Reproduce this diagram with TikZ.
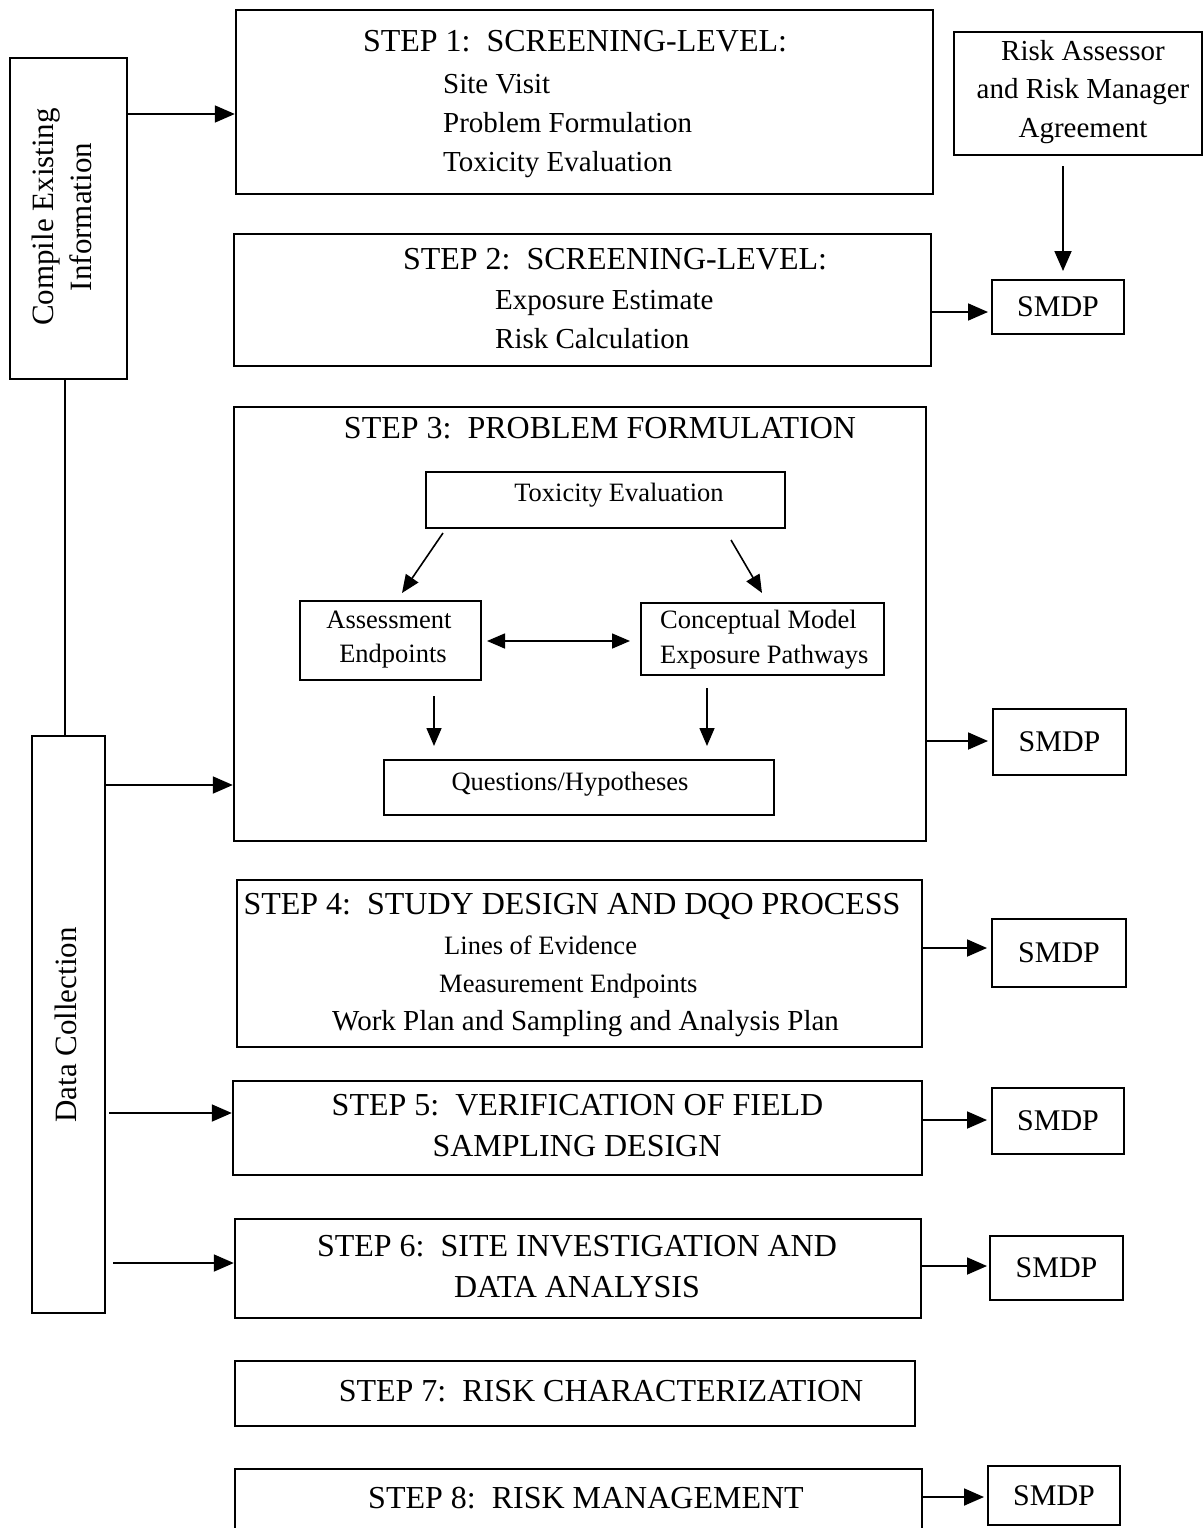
\documentclass[tikz,border=0pt]{standalone}
\usepackage{fontspec}
\setmainfont{Liberation Serif}
\usetikzlibrary{arrows.meta}
\begin{document}
\begin{tikzpicture}[x=1pt,y=-1pt,
  box/.style={draw, line width=2.4pt, inner sep=0pt},
  ibox/.style={draw, line width=1.8pt, inner sep=0pt},
  ttl/.style={font=\fontsize{32}{38}\selectfont, inner sep=0pt, anchor=base},
  txt/.style={font=\fontsize{29}{38}\selectfont, inner sep=0pt, anchor=base west},
  txtc/.style={font=\fontsize{29}{38}\selectfont, inner sep=0pt, anchor=base},
  sml/.style={font=\fontsize{26.5}{32}\selectfont, inner sep=0pt, anchor=base west},
  smlc/.style={font=\fontsize{26.5}{32}\selectfont, inner sep=0pt, anchor=base},
  smdp/.style={draw, line width=2pt, inner sep=0pt, font=\fontsize{30}{36}\selectfont},
  arr/.style={-{Triangle[length=20pt,width=17pt]}, line width=1.8pt},
  iarr/.style={-{Triangle[length=18pt,width=15pt]}, line width=1.6pt},
  darr/.style={{Triangle[length=18pt,width=15pt]}-{Triangle[length=18pt,width=15pt]}, line width=1.6pt}
]
\fill[white] (0,0) rectangle (1204,1528);
\clip (0,0) rectangle (1204,1528);

% left column
\node[box, minimum width=117pt, minimum height=321pt] (cei) at (68.5,218.5) {};
\node[rotate=90, align=center, font=\fontsize{31}{38}\selectfont, inner sep=0pt] (ceit) at (62,217) {Compile Existing\\Information};
\node[box, minimum width=73pt, minimum height=577pt] (dc) at (68.5,1024.5) {};
\node[rotate=90, font=\fontsize{31}{38}\selectfont, inner sep=0pt] (dct) at (66,1025) {Data Collection};
\draw[line width=1.8pt] (cei.south -| 65,0) -- (dc.north -| 65,0);

% step 1
\node[box, minimum width=697pt, minimum height=184pt] (s1) at (584.5,102) {};
\node[ttl] (s1t) at (575,52) {STEP 1:\ \ SCREENING-LEVEL:};
\node[txt] (s1a) at (443,93) {Site Visit};
\node[txt] (s1b) at (443,132) {Problem Formulation};
\node[txt] (s1c) at (443,171) {Toxicity Evaluation};
\draw[arr] (cei.east |- 0,114) -- (s1.west |- 0,114);

% risk assessor
\node[box, minimum width=248pt, minimum height=123pt] (ra) at (1078,93.5) {};
\node[txtc] (ra1) at (1083,60) {Risk Assessor};
\node[txtc] (ra2) at (1083,99) {and Risk Manager};
\node[txtc] (ra3) at (1083,137) {Agreement};

% step 2
\node[box, minimum width=697pt, minimum height=132pt] (s2) at (582.5,300) {};
\node[ttl] (s2t) at (615,269) {STEP 2:\ \ SCREENING-LEVEL:};
\node[txt] (s2a) at (495,309) {Exposure Estimate};
\node[txt] (s2b) at (495,348) {Risk Calculation};
\node[smdp, minimum width=132pt, minimum height=54pt] (m2) at (1058,307) {SMDP};
\draw[arr, shorten >=3pt] (s2.east |- 0,312) -- (m2.west |- 0,312);
\draw[arr, shorten <=10pt, shorten >=8pt] (ra.south -| 1063,0) -- (m2.north -| 1063,0);

% step 3
\node[box, minimum width=692pt, minimum height=434pt] (s3) at (580,624) {};
\node[ttl] (s3t) at (600,438) {STEP 3:\ \ PROBLEM FORMULATION};
\node[ibox, minimum width=359pt, minimum height=56pt] (te) at (605.5,500) {};
\node[smlc] (tet) at (619,501) {Toxicity Evaluation};
\node[ibox, minimum width=181pt, minimum height=79pt] (ae) at (390.5,640.5) {};
\node[smlc] (ae1) at (389,628) {Assessment};
\node[smlc] (ae2) at (393,662) {Endpoints};
\node[ibox, minimum width=243pt, minimum height=72pt] (cm) at (762.5,639) {};
\node[sml] (cm1) at (660,628) {Conceptual Model};
\node[sml] (cm2) at (660,663) {Exposure Pathways};
\node[ibox, minimum width=390pt, minimum height=55pt] (qh) at (579,787.5) {};
\node[smlc] (qht) at (570,790) {Questions/Hypotheses};
\coordinate (a1s) at (443,533);
\coordinate (a1e) at (402,593);
\coordinate (a2s) at (731,540);
\coordinate (a2e) at (762,593);
\coordinate (a3s) at (487,641);
\coordinate (a3e) at (630,641);
\coordinate (a4s) at (434,696);
\coordinate (a4e) at (434,746);
\coordinate (a5s) at (707,688);
\coordinate (a5e) at (707,746);
\draw[iarr] (a1s) -- (a1e);
\draw[iarr] (a2s) -- (a2e);
\draw[darr] (a3s) -- (a3e);
\draw[iarr] (a4s) -- (a4e);
\draw[iarr] (a5s) -- (a5e);
\node[smdp, minimum width=133pt, minimum height=66pt] (m3) at (1059.5,742) {SMDP};
\draw[arr, shorten >=4pt] (s3.east |- 0,741) -- (m3.west |- 0,741);
\draw[arr] (dc.east |- 0,785) -- (s3.west |- 0,785);

% step 4
\node[box, minimum width=685pt, minimum height=167pt] (s4) at (579.5,963.5) {};
\node[ttl] (s4t) at (572,914) {STEP 4:\ \ STUDY DESIGN AND DQO PROCESS};
\node[sml] (s4a) at (444,954) {Lines of Evidence};
\node[sml] (s4b) at (439,992) {Measurement Endpoints};
\node[txt] (s4c) at (332,1030) {Work Plan and Sampling and Analysis Plan};
\node[smdp, minimum width=134pt, minimum height=68pt] (m4) at (1059,953) {SMDP};
\draw[arr, shorten >=4pt] (s4.east |- 0,948) -- (m4.west |- 0,948);

% step 5
\node[box, minimum width=689pt, minimum height=94pt] (s5) at (577.5,1128) {};
\node[ttl] (s5a) at (577.5,1115) {STEP 5:\ \ VERIFICATION OF FIELD};
\node[ttl] (s5b) at (577,1156) {SAMPLING DESIGN};
\node[smdp, minimum width=132pt, minimum height=66pt] (m5) at (1058,1121) {SMDP};
\draw[arr, shorten >=4pt] (s5.east |- 0,1120) -- (m5.west |- 0,1120);
\draw[arr, shorten <=3pt] (dc.east |- 0,1113) -- (s5.west |- 0,1113);

% step 6
\node[box, minimum width=686pt, minimum height=99pt] (s6) at (578,1268.5) {};
\node[ttl] (s6a) at (577,1256) {STEP 6:\ \ SITE INVESTIGATION AND};
\node[ttl] (s6b) at (577,1297) {DATA ANALYSIS};
\node[smdp, minimum width=133pt, minimum height=64pt] (m6) at (1056.5,1268) {SMDP};
\draw[arr, shorten >=2pt] (s6.east |- 0,1266) -- (m6.west |- 0,1266);
\draw[arr, shorten <=7pt] (dc.east |- 0,1263) -- (s6.west |- 0,1263);

% step 7
\node[box, minimum width=680pt, minimum height=65pt] (s7) at (575,1393.5) {};
\node[ttl] (s7t) at (601,1401) {STEP 7:\ \ RISK CHARACTERIZATION};

% step 8
\node[box, minimum width=687pt, minimum height=91pt] (s8) at (578.5,1514.5) {};
\node[ttl] (s8t) at (586,1508) {STEP 8:\ \ RISK MANAGEMENT};
\node[smdp, minimum width=132pt, minimum height=59pt] (m8) at (1054,1495.5) {SMDP};
\draw[arr, shorten >=3pt] (s8.east |- 0,1497) -- (m8.west |- 0,1497);
\end{tikzpicture}
\end{document}
